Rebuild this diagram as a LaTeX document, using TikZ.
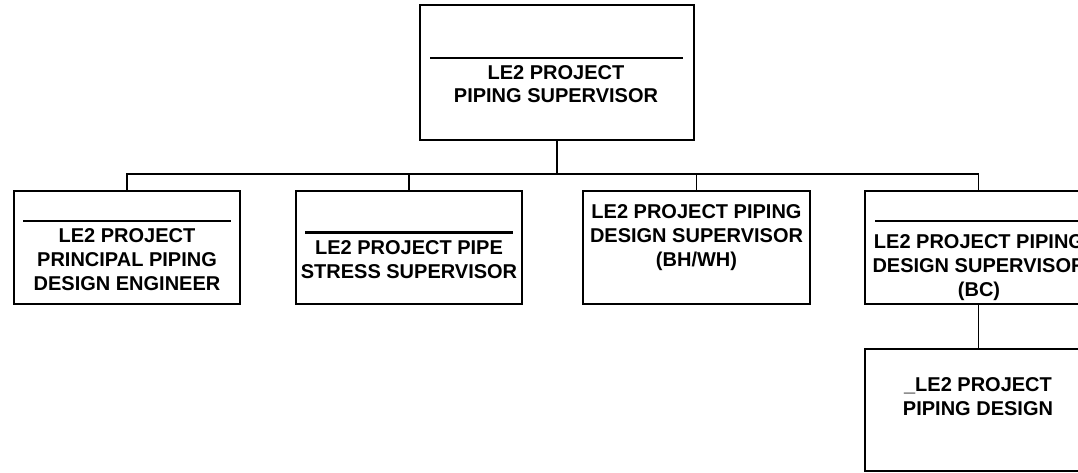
\documentclass[tikz,border=0pt]{standalone}
\usepackage{fontspec}
\setmainfont{Liberation Sans}
\usetikzlibrary{calc}
\begin{document}
\begin{tikzpicture}[x=1pt,y=-1pt,
  box/.style={draw,line width=1.8pt,inner sep=0pt,outer sep=0pt,rectangle},
  lbl/.style={font=\fontsize{20}{23.6}\selectfont\bfseries,align=center,anchor=base,inner sep=0pt},
  conn/.style={line width=1.8pt},
  rulel/.style={line width=2.2pt}]
\useasboundingbox (0,0) rectangle (1078,473);
\clip (0,0) rectangle (1078,473);
\fill[white] (0,0) rectangle (1078,473);
% boxes
\node[box,minimum width=274,minimum height=135] (t) at (557,72.5) {};
\node[box,minimum width=226,minimum height=113] (b1) at (127,247.5) {};
\node[box,minimum width=226,minimum height=113] (b2) at (409,247.5) {};
\node[box,minimum width=227,minimum height=113] (b3) at (696.5,247.5) {};
\node[box,minimum width=227,minimum height=113] (b4) at (978.5,247.5) {};
\node[box,minimum width=227,minimum height=122] (b5) at (978.5,410) {};
% inner rules
\draw[rulel] ($(t.north west)+(10,53)$) -- ($(t.north east)+(-11,53)$);
\draw[rulel] ($(b1.north west)+(9,30)$) -- ($(b1.north east)+(-9,30)$);
\draw[rulel] ($(b2.north west)+(9,41.5)$) -- ($(b2.north east)+(-9,41.5)$);
\draw[rulel] ($(b4.north west)+(10,30)$) -- ($(b4.north east)+(-10,30)$);
% texts (anchor = baseline of last line)
\node[lbl] (tt) at (556,103) {LE2 PROJECT\\PIPING SUPERVISOR};
\node[lbl] (t1) at (127,290) {LE2 PROJECT\\PRINCIPAL PIPING\\DESIGN ENGINEER};
\node[lbl] (t2) at (409,278) {LE2 PROJECT PIPE\\STRESS SUPERVISOR};
\node[lbl] (t3) at (696.5,266) {LE2 PROJECT PIPING\\DESIGN SUPERVISOR\\(BH/WH)};
\node[lbl] (t4) at (979,296) {LE2 PROJECT PIPING\\DESIGN SUPERVISOR\\(BC)};
\node[lbl] (t5) at (978,415) {\_LE2 PROJECT\\PIPING DESIGN};
% connectors
\coordinate (bus) at (557,174);
\draw[conn] (t.south) -- (bus);
\draw[conn] (b1.north) |- (bus) -| (b4.north);
\draw[conn] (b2.north) -- (b2.north |- bus);
\draw[conn] (b3.north) -- (b3.north |- bus);
\draw[conn] (b4.south) -- (b5.north);
\end{tikzpicture}
\end{document}
